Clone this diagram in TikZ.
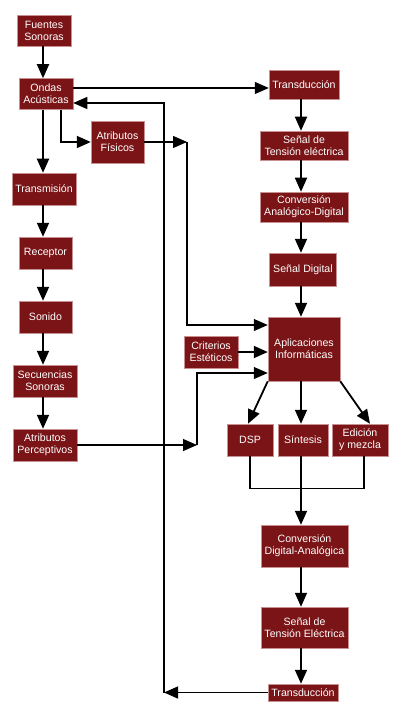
\documentclass[tikz,border=0pt]{standalone}
\usepackage{fontspec}
\setmainfont{Liberation Sans}
\usetikzlibrary{arrows.meta}
\definecolor{boxred}{HTML}{7A1416}
\definecolor{boxedge}{HTML}{C89090}
\begin{document}
\begin{tikzpicture}[x=1pt,y=1pt,
  box/.style={rectangle, fill=boxred, draw=boxedge, line width=0.5pt, text=white,
    align=center, inner sep=0pt, font=\fontsize{10.6}{12}\selectfont},
  arr/.style={line width=1.8pt, -{Triangle[length=14pt,width=12pt]}},
  tarr/.style={line width=1.2pt, -{Triangle[length=14pt,width=12pt]}},
  thin/.style={line width=1.2pt}]
\useasboundingbox (0,0) rectangle (400,-714);
% left column
\node[box, minimum width=54, minimum height=31] (fs) at (44,-30.5) {Fuentes\\Sonoras};
\node[box, minimum width=54, minimum height=31] (oa) at (46,-94) {Ondas\\Acústicas};
\node[box, minimum width=53, minimum height=42] (af) at (117.5,-142) {Atributos\\Físicos};
\node[box, minimum width=64, minimum height=32] (tr) at (44,-189) {Transmisión};
\node[box, minimum width=53, minimum height=32] (re) at (45.5,-253) {Receptor};
\node[box, minimum width=53, minimum height=32] (so) at (45.5,-317) {Sonido};
\node[box, minimum width=64, minimum height=32] (sec) at (45,-381) {Secuencias\\Sonoras};
\node[box, minimum width=64, minimum height=32] (ap) at (45,-445) {Atributos\\Perceptivos};
% right column
\node[box, minimum width=70, minimum height=29] (td) at (304,-84.5) {Transducción};
\node[box, minimum width=88, minimum height=29] (st) at (304,-145.5) {Señal de\\Tensión eléctrica};
\node[box, minimum width=88, minimum height=30] (cad) at (304,-207) {Conversión\\Analógico-Digital};
\node[box, minimum width=67, minimum height=33] (sd) at (303,-269.5) {Señal Digital};
\node[box, minimum width=72, minimum height=64] (app) at (304,-349) {Aplicaciones\\Informáticas};
\node[box, minimum width=54, minimum height=32] (ce) at (211,-352) {Criterios\\Estéticos};
\node[box, minimum width=46, minimum height=32] (dsp) at (250,-440) {DSP};
\node[box, minimum width=50, minimum height=32] (syn) at (303,-440) {Síntesis};
\node[box, minimum width=56, minimum height=32] (ed) at (360,-440) {Edición\\y mezcla};
\node[box, minimum width=87, minimum height=42] (cda) at (304.5,-546) {Conversión\\Digital-Analógica};
\node[box, minimum width=87, minimum height=41] (ste) at (304.5,-627.5) {Señal de\\Tensión Eléctrica};
\node[box, minimum width=70, minimum height=17] (tdb) at (303,-692.5) {Transducción};
% coordinates
\coordinate (lx) at (43,0);
\coordinate (rx) at (301,0);
\coordinate (rc) at (164,-103);
\coordinate (fc) at (187,-142);
\coordinate (pc) at (197,-445);
% left chain
\draw[arr] (fs.south -| lx) -- (oa.north -| lx);
\draw[arr] (oa.south -| lx) -- (tr.north -| lx);
\draw[arr] (tr.south -| lx) -- (re.north -| lx);
\draw[arr] (re.south -| lx) -- (so.north -| lx);
\draw[arr] (so.south -| lx) -- (sec.north -| lx);
\draw[arr] (sec.south -| lx) -- (ap.north -| lx);
% ondas to transduccion
\draw[tarr] (oa.east |- 0,-88) -- (td.west |- 0,-88);
% ondas to atributos fisicos
\draw[arr] (oa.south -| 61,0) |- (af.west);
% right chain
\draw[arr] (td.south -| rx) -- (st.north -| rx);
\draw[arr] (st.south -| rx) -- (cad.north -| rx);
\draw[arr] (cad.south -| rx) -- (sd.north -| rx);
\draw[arr] (sd.south -| rx) -- (app.north -| rx);
% fisicos to app
\draw[tarr] (af.east) -- (fc);
\draw[tarr] (fc) |- (app.west |- 0,-325);
% perceptivos to app
\draw[tarr] (ap.east) -- (pc);
\draw[tarr] (pc) |- (app.west |- 0,-373);
% criterios
\draw[arr] (ce.east) -- (app.west |- ce.east);
% app to outputs
\draw[arr] (app.south west) -- ([xshift=-2pt]dsp.north);
\draw[arr] (app.south -| rx) -- (syn.north -| rx);
\draw[arr] (app.south east) -- ([xshift=10pt]ed.north);
% merge
\draw[thin] (dsp.south) -- ++(0,-32) -| ([xshift=4pt]ed.south);
\draw[arr] (syn.south -| rx) -- (cda.north -| rx);
\draw[arr] (cda.south -| rx) -- (ste.north -| rx);
\draw[arr] (ste.south -| rx) -- (tdb.north -| rx);
% return
\draw[tarr] (tdb.west) -- (tdb.west -| rc);
\draw[tarr] (tdb.west -| rc) |- (oa.east |- rc);
\end{tikzpicture}
\end{document}
